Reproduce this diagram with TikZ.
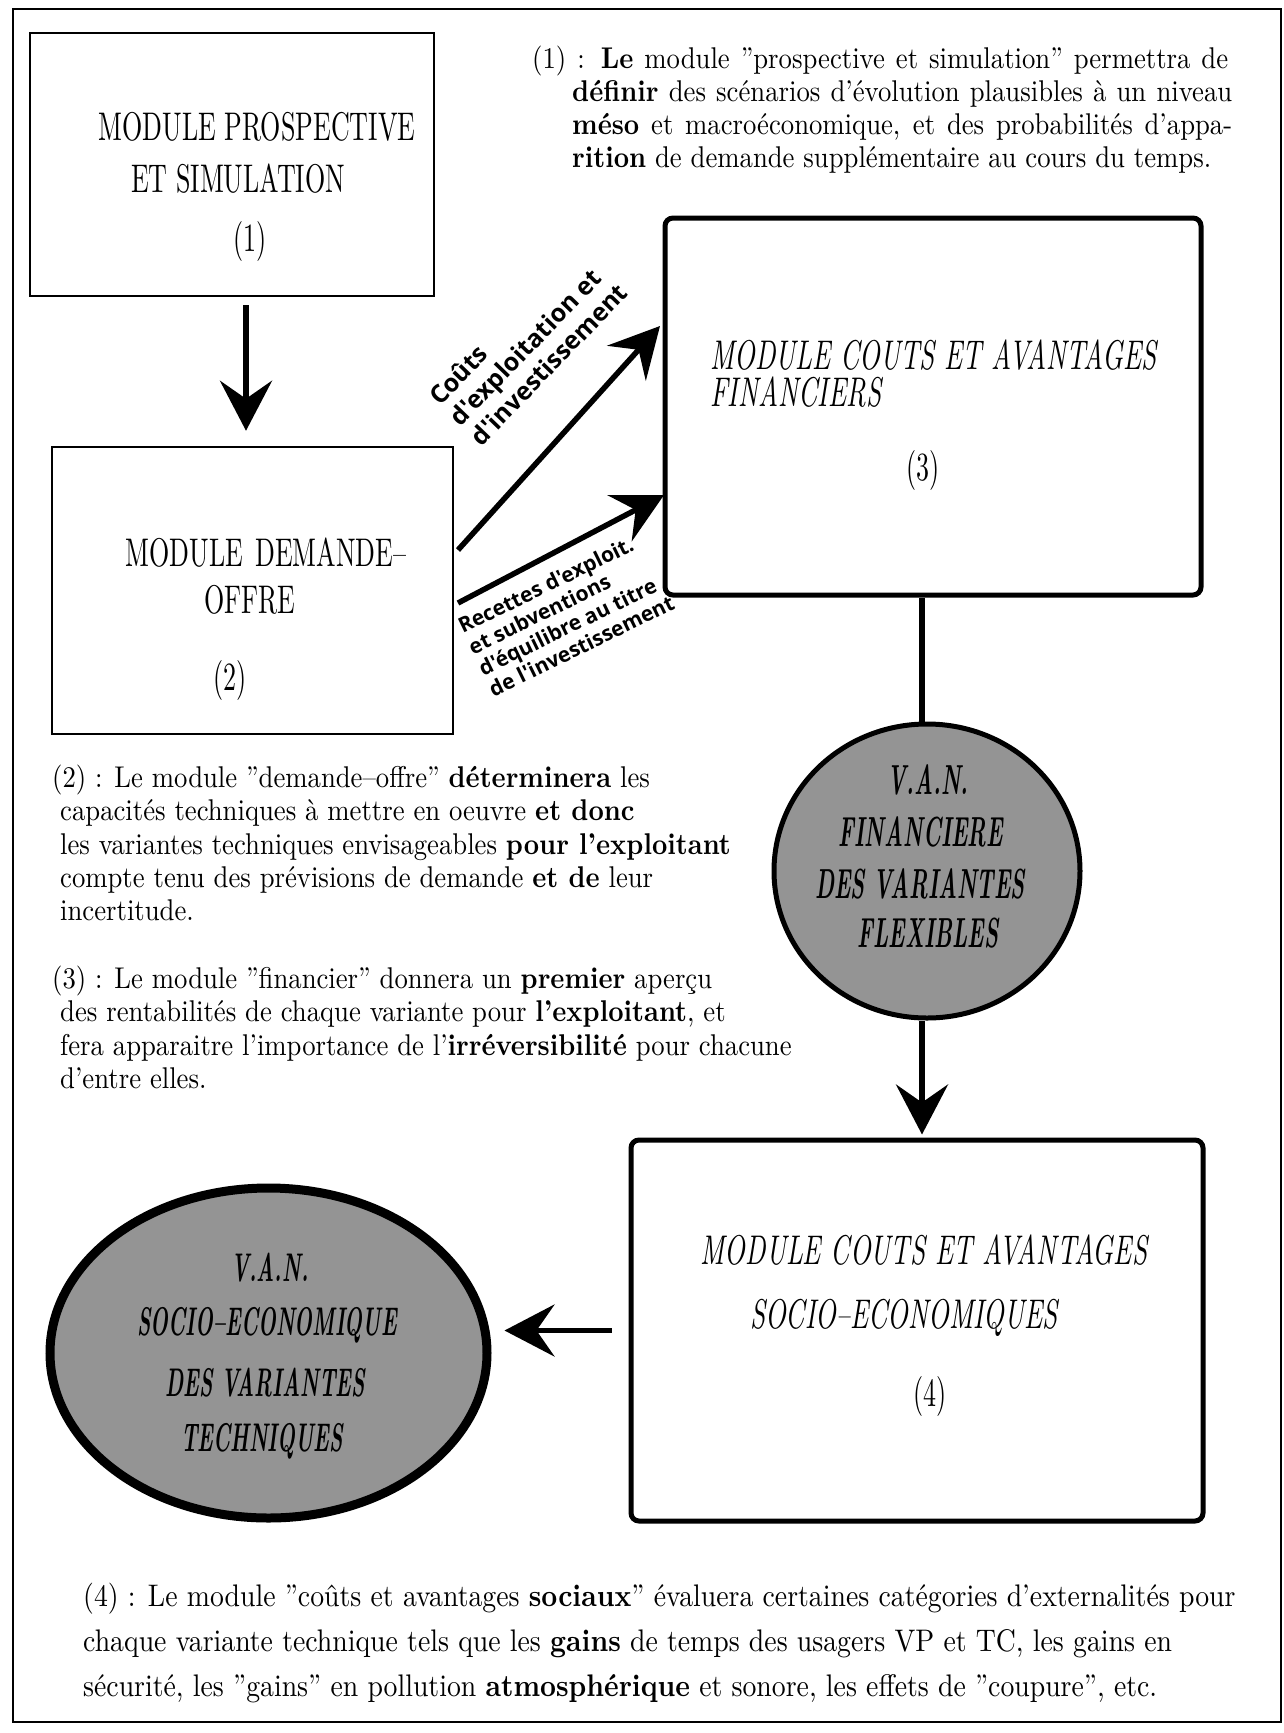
\documentclass[tikz,border=0pt]{standalone}
\usepackage{fontspec}
\usetikzlibrary{arrows.meta,shapes.geometric,calc}
\setmainfont{lmroman10-regular.otf}[BoldFont=lmroman10-bold.otf,ItalicFont=lmroman10-italic.otf,BoldItalicFont=lmroman10-bolditalic.otf,Ligatures=TeX]
\newfontfamily\bodyf{lmroman10-regular.otf}[FakeStretch=0.89,BoldFont=lmroman10-bold.otf,ItalicFont=lmroman10-italic.otf,Ligatures=TeX]
\newfontfamily\tfont{lmroman10-regular.otf}[FakeStretch=0.65,BoldFont=lmroman10-bold.otf,ItalicFont=lmroman10-italic.otf,BoldItalicFont=lmroman10-bolditalic.otf,Ligatures=TeX]
\newfontfamily\vfont{lmroman10-regular.otf}[FakeStretch=0.52,BoldFont=lmroman10-bold.otf,ItalicFont=lmroman10-italic.otf,BoldItalicFont=lmroman10-bolditalic.otf,Ligatures=TeX]
\newfontfamily\lblf{Open Sans}
\tikzset{
  frame/.style={draw,line width=2.5pt},
  thinbox/.style={draw,line width=2.5pt,rectangle,inner sep=0pt},
  thickbox/.style={draw,line width=5pt,rectangle,rounded corners=8pt,inner sep=0pt},
  vanshape/.style={ellipse,draw,fill=black!42,inner sep=0pt},
  arr/.style={line width=5.5pt,-{Stealth[length=50pt,width=52pt,inset=18pt]}},
  ttl/.style={font=\tfont\fontsize{40}{44}\selectfont,inner sep=0pt},
  ttli/.style={font=\tfont\itshape\fontsize{41.5}{45}\selectfont,inner sep=0pt},
  vtxt/.style={font=\vfont\bfseries\itshape\fontsize{42}{46}\selectfont,inner sep=0pt},
  vtxtb/.style={font=\vfont\bfseries\itshape\fontsize{40}{44}\selectfont,inner sep=0pt},
  body/.style={font=\bodyf\fontsize{30}{33}\selectfont,anchor=base west,inner sep=0pt},
  bodyl/.style={font=\bodyf\fontsize{31.2}{35}\selectfont,anchor=base west,inner sep=0pt},
  lbla/.style={font=\lblf\bfseries\fontsize{25}{29}\selectfont,align=left,inner sep=0pt},
  lblb/.style={font=\lblf\bfseries\fontsize{21}{23.5}\selectfont,align=left,inner sep=0pt},
}
\begin{document}
\begin{tikzpicture}[x=1pt,y=-1pt]
\fill[white] (0,0) rectangle (1284,1733);
\useasboundingbox (0,0) rectangle (1284,1733);
\draw[frame] (13,9) rectangle (1281,1722);

% boxes
\node[thinbox,minimum width=404pt,minimum height=263pt] (box1) at (232,164.5) {};
\node[thinbox,minimum width=401pt,minimum height=287pt] (box2) at (252.5,590.5) {};
\node[thickbox,minimum width=536pt,minimum height=377pt] (box3) at (933,406.5) {};
\node[vanshape,line width=5pt,minimum width=306pt,minimum height=294pt] (van1) at (927,871) {};
\node[thickbox,minimum width=572pt,minimum height=381pt] (box4) at (917,1330.5) {};
\node[vanshape,line width=9pt,minimum width=437pt,minimum height=330pt] (van2) at (268.5,1353) {};

% box texts
\node[ttl] (b1a) at (257,127) {MODULE PROSPECTIVE};
\node[ttl] (b1b) at (238,179) {ET SIMULATION};
\node[ttl] (b1c) at (250,241) {(1)};
\node[ttl] (b2a) at (266,553) {MODULE\hspace{12pt}DEMANDE--};
\node[ttl] (b2b) at (250,600) {OFFRE};
\node[ttl] (b2c) at (230,680) {(2)};
\node[ttli,anchor=west] (b3a) at (710,355) {MODULE COUTS ET AVANTAGES};
\node[ttli,anchor=west] (b3b) at (710,392) {FINANCIERS};
\node[ttl] (b3c) at (923,470) {(3)};
\node[ttli] (b4a) at (924,1250) {MODULE COUTS ET AVANTAGES};
\node[ttli] (b4b) at (904,1318) {SOCIO--ECONOMIQUES};
\node[ttl] (b4c) at (930,1396) {(4)};

% circle / ellipse texts
\node[vtxt] (v1a) at (928,780) {V.A.N.};
\node[vtxt] (v1b) at (921,832) {FINANCIERE};
\node[vtxt] (v1c) at (920,884) {DES VARIANTES};
\node[vtxt] (v1d) at (928,933) {FLEXIBLES};
\node[vtxtb] (v2a) at (270,1268) {V.A.N.};
\node[vtxtb] (v2b) at (267,1325) {SOCIO--ECONOMIQUE};
\node[vtxtb] (v2c) at (265,1383) {DES VARIANTES};
\node[vtxtb] (v2d) at (262,1441) {TECHNIQUES};

% connectors
\coordinate (ax) at (246,0);
\draw[arr,shorten <=8pt,shorten >=15pt] (ax |- box1.south) -- (ax |- box2.north);
\coordinate (s1) at (458,550);
\coordinate (e1) at (660,326);
\coordinate (s2) at (458,603);
\coordinate (e2) at (664,495);
\draw[arr] (s1) -- (e1);
\draw[arr] (s2) -- (e2);
\coordinate (vx) at (922,0);
\draw[line width=5.5pt] (vx |- box3.south) -- (vx |- van1.north);
\draw[arr,shorten >=3pt] (vx |- van1.south) -- (vx |- box4.north);
\draw[arr,shorten <=17pt,shorten >=13pt] (box4.west) -- (box4.west -| van2.east);

% arrow labels
\node[lbla,rotate=46] (lab1) at (528,344) {Coûts\\d'exploitation et\\d'investissement};
\node[lblb,rotate=26] (lab2) at (566,614) {Recettes d'exploit.\\et subventions\\d'équilibre au titre\\de l'investissement};

% notes
\node[body] (n1a) at (532,68) {\makebox[696pt][s]{(1) : \textbf{Le} module "prospective et simulation" permettra de}};
\node[body] (n1b) at (572,101) {\makebox[660pt][s]{\textbf{définir} des scénarios d'évolution plausibles à un niveau}};
\node[body] (n1c) at (572,134) {\makebox[660pt][s]{\textbf{méso} et macroéconomique, et des probabilités d'appa-}};
\node[body] (n1d) at (572,167) {\textbf{rition} de demande supplémentaire au cours du temps.};

\node[body] (n2a) at (52,787) {(2) : Le module "demande--offre" \textbf{déterminera} les};
\node[body] (n2b) at (60,820) {capacités techniques à mettre en oeuvre \textbf{et donc}};
\node[body] (n2c) at (60,854) {les variantes techniques envisageables \textbf{pour l'exploitant}};
\node[body] (n2d) at (60,887) {compte tenu des prévisions de demande \textbf{et de} leur};
\node[body] (n2e) at (60,920) {incertitude.};

\node[body] (n3a) at (52,988) {(3) : Le module "financier" donnera un \textbf{premier} aperçu};
\node[body] (n3b) at (60,1021) {des rentabilités de chaque variante pour \textbf{l'exploitant}, et};
\node[body] (n3c) at (60,1055) {fera apparaitre l'importance de l'\textbf{irréversibilité} pour chacune};
\node[body] (n3d) at (60,1088) {d'entre elles.};

\node[bodyl] (n4a) at (83,1606) {(4) : Le module "coûts et avantages \textbf{sociaux}" évaluera certaines catégories d'externalités pour};
\node[bodyl] (n4b) at (83,1651) {chaque variante technique tels que les \textbf{gains} de temps des usagers VP et TC, les gains en};
\node[bodyl] (n4c) at (83,1696) {sécurité, les "gains" en pollution \textbf{atmosphérique} et sonore, les effets de "coupure", etc.};
\end{tikzpicture}
\end{document}
